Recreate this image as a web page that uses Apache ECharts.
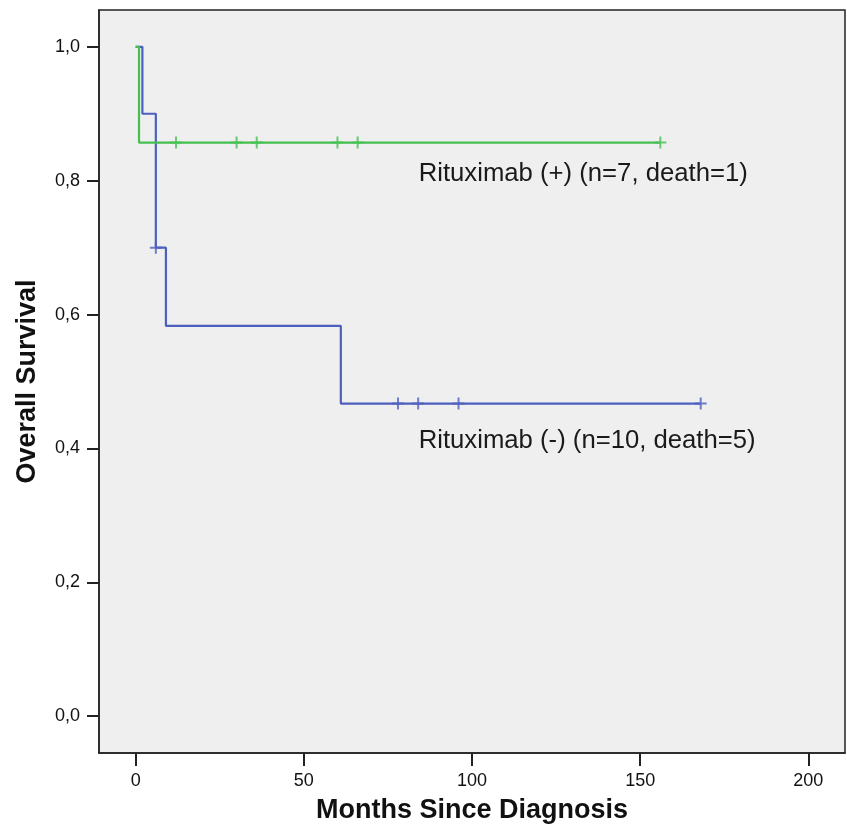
<!DOCTYPE html>
<html>
<head>
<meta charset="utf-8">
<script src="https://cdn.jsdelivr.net/npm/echarts@6/dist/echarts.min.js"></script>
<style>
html,body{margin:0;padding:0;background:#fff;}
#chart{width:847px;height:830px;}
</style>
</head>
<body>
<div id="chart"></div>
<script>
// Kaplan-Meier step points (time in months, survival)
const posTimes = [0, 1, 156];
const posSurv  = [1.0, 0.857, 0.857];
const posCensorTimes = [12, 30, 36, 60, 66, 156];

const negTimes = [0, 2, 6, 9, 61, 168];
const negSurv  = [1.0, 0.9, 0.7, 0.583, 0.467, 0.467];
const negCensorTimes = [6, 78, 84, 96, 168];

const xTicks = [0, 50, 100, 150, 200];
const yTicks = [0, 0.2, 0.4, 0.6, 0.8, 1.0];

const posLabel = 'Rituximab (+) (n=7, death=1)';
const negLabel = 'Rituximab (-) (n=10, death=5)';
const posLabelAt = [84.0, 0.810];
const negLabelAt = [84.0, 0.411];

function survAt(times, surv, t) {
  let s = surv[0];
  for (let i = 0; i < times.length; i++) { if (times[i] <= t) s = surv[i]; }
  return s;
}
const zip = (a, b) => a.map((v, i) => [v, b[i]]);

const GREEN = '#45c050';
const BLUE = '#4d60c0';
const PLUS = 'path://M5,0h2v12h-2z M0,5h12v2h-12z';
const FONT = 'Liberation Sans, Arial, sans-serif';

const chart = echarts.init(document.getElementById('chart'));
chart.setOption({
  animation: false,
  backgroundColor: '#ffffff',
  grid: {
    left: 99, top: 10, right: 2, bottom: 77,
    show: true, backgroundColor: '#efefef', borderColor: '#222', borderWidth: 1.5
  },
  xAxis: {
    type: 'value', min: -10.9, max: 210.9,
    name: 'Months Since Diagnosis', nameLocation: 'middle', nameGap: 44,
    nameTextStyle: { fontFamily: FONT, fontWeight: 'bold', fontSize: 27, color: '#111' },
    axisLine: { show: true, onZero: false, lineStyle: { color: '#222', width: 1.5 } },
    axisTick: { show: true, length: 13, customValues: xTicks, lineStyle: { color: '#222', width: 2 } },
    axisLabel: { customValues: xTicks, margin: 19, fontFamily: FONT, fontSize: 18, color: '#111' },
    splitLine: { show: false }
  },
  yAxis: {
    type: 'value', min: -0.055, max: 1.055,
    name: 'Overall Survival', nameLocation: 'middle', nameGap: 58, nameRotate: 90,
    nameTextStyle: { fontFamily: FONT, fontWeight: 'bold', fontSize: 27, color: '#111' },
    axisLine: { show: true, onZero: false, lineStyle: { color: '#222', width: 1.5 } },
    axisTick: { show: true, length: 12, customValues: yTicks, lineStyle: { color: '#222', width: 2 } },
    axisLabel: {
      customValues: yTicks, margin: 19, fontFamily: FONT, fontSize: 18, color: '#111',
      formatter: v => v.toFixed(1).replace('.', ',')
    },
    splitLine: { show: false }
  },
  series: [
    {
      type: 'line', step: 'end', data: zip(negTimes, negSurv),
      showSymbol: false, lineStyle: { color: BLUE, width: 2.2 }, z: 2
    },
    {
      type: 'scatter', symbol: PLUS, symbolSize: 12,
      data: negCensorTimes.map(t => [t, survAt(negTimes, negSurv, t)]),
      itemStyle: { color: BLUE }, z: 2
    },
    {
      type: 'line', step: 'end', data: zip(posTimes, posSurv),
      showSymbol: false, lineStyle: { color: GREEN, width: 2.2 }, z: 3
    },
    {
      type: 'scatter', symbol: PLUS, symbolSize: 12,
      data: posCensorTimes.map(t => [t, survAt(posTimes, posSurv, t)]),
      itemStyle: { color: GREEN }, z: 3
    },
    {
      type: 'scatter', symbol: 'circle', symbolSize: 1,
      itemStyle: { color: 'rgba(0,0,0,0)' },
      data: [
        { value: posLabelAt, label: { formatter: posLabel } },
        { value: negLabelAt, label: { formatter: negLabel } }
      ],
      label: { show: true, position: 'right', distance: 0, fontFamily: FONT, fontSize: 25.7, color: '#1a1a1a', opacity: 1 },
      labelLayout: { hideOverlap: false },
      silent: true, z: 4
    }
  ]
});
</script>
</body>
</html>
